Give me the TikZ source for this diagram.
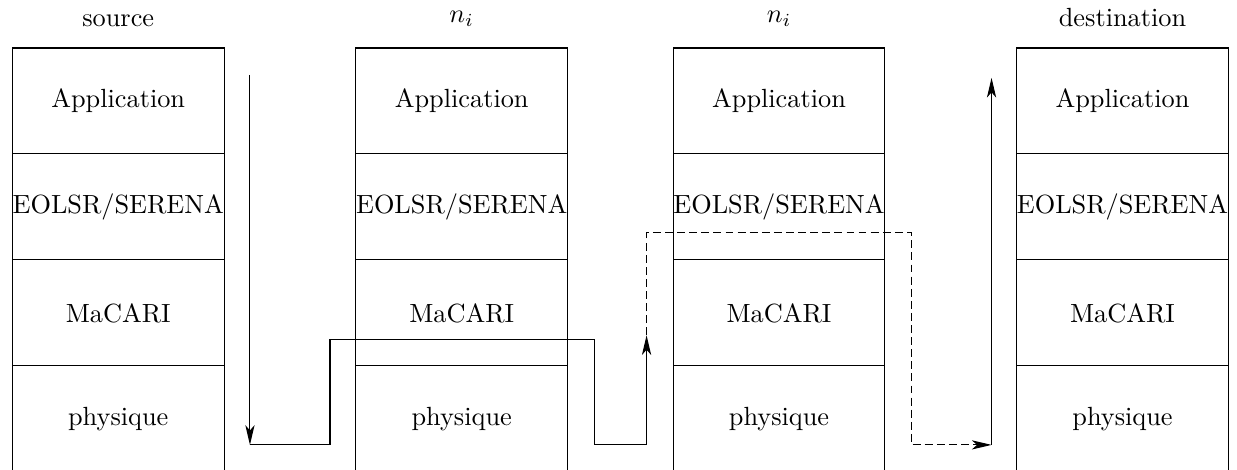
\documentclass[tikz,border=0pt]{standalone}
\usepackage{amsmath}
\usepackage{tikz}
\usetikzlibrary{arrows.meta,positioning}

\begin{document}
\begin{tikzpicture}[
      node distance=0pt,
      % one layer of a protocol stack
      layer/.style={
        draw,
        outer sep=0pt,
        inner sep=0pt,
        align=center,
        minimum width=2.83cm,
        minimum height=1.416cm
      },
      title/.style={above=1.6mm of #1},
      hop/.style={-{Stealth[length=7.5pt,width=3.5pt,inset=2pt]}},
      relay/.style={hop, dash pattern=on 3pt off 1.6pt}
    ]
    \useasboundingbox (0,0) rectangle (16.53,-6.28);

    % source stack
    \node[layer] (src-app) at (1.58,-1.349) {Application};
    \node[layer, below=of src-app] (src-net) {EOLSR/SERENA};
    \node[layer, below=of src-net] (src-mac) {MaCARI};
    \node[layer, below=of src-mac] (src-phy) {physique};
    \node[title=src-app] (src-title) {source};

    % first relay
    \node[layer] (fwd-app) at (6.17,-1.349) {Application};
    \node[layer, below=of fwd-app] (fwd-net) {EOLSR/SERENA};
    \node[layer, below=of fwd-net] (fwd-mac) {MaCARI};
    \node[layer, below=of fwd-mac] (fwd-phy) {physique};
    \node[title=fwd-app] (fwd-title) {$n_i$};

    % second relay
    \node[layer] (rly-app) at (10.41,-1.349) {Application};
    \node[layer, below=of rly-app] (rly-net) {EOLSR/SERENA};
    \node[layer, below=of rly-net] (rly-mac) {MaCARI};
    \node[layer, below=of rly-mac] (rly-phy) {physique};
    \node[title=rly-app] (rly-title) {$n_i$};

    % destination stack
    \node[layer] (dst-app) at (15.00,-1.349) {Application};
    \node[layer, below=of dst-app] (dst-net) {EOLSR/SERENA};
    \node[layer, below=of dst-net] (dst-mac) {MaCARI};
    \node[layer, below=of dst-mac] (dst-phy) {physique};
    \node[title=dst-app] (dst-title) {destination};

    % corners of the packet path
    \coordinate (down-top) at (3.34,-1.00);
    \coordinate (down-end) at (3.34,-5.945);
    \coordinate (jump-low) at (4.41,-5.945);
    \coordinate (jump-high) at (7.94,-4.54);
    \coordinate (hop-end) at (8.64,-4.48);
    \coordinate (hop-low) at (7.94,-5.945);
    \coordinate (detour-top) at (12.18,-3.11);
    \coordinate (up-start) at (13.25,-5.945);
    \coordinate (up-top) at (13.25,-1.04);

    \draw[hop] (down-top) -- (down-end);
    \draw[hop] (down-end) -- (jump-low) |- (jump-high) |- (hop-low -| hop-end) -- (hop-end);
    \draw[relay] (hop-end) |- (detour-top) |- (up-start);
    \draw[hop] (up-start) -- (up-top);
  \end{tikzpicture}
\end{document}
